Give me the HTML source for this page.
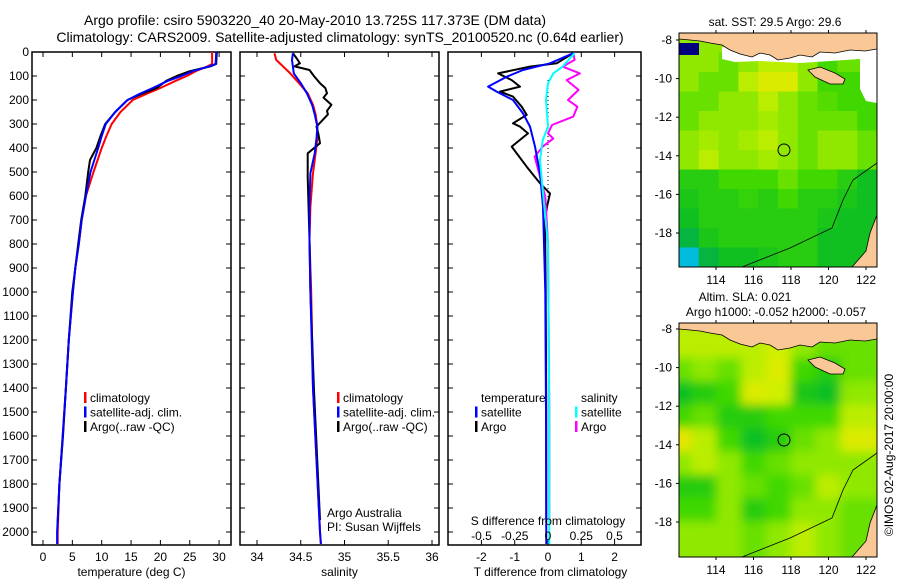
<!DOCTYPE html>
<html><head><meta charset="utf-8"><style>
html,body{margin:0;padding:0;background:#fff;}
svg{display:block;font-family:"Liberation Sans",sans-serif;}
</style></head><body>
<svg id="c" width="900" height="580" viewBox="0 0 900 580">
<defs>
<clipPath id="clipTop"><rect x="679" y="33" width="198" height="234"/></clipPath>
<clipPath id="clipBot"><rect x="679" y="323" width="198" height="234"/></clipPath>
<filter id="blur" x="-10%" y="-10%" width="120%" height="120%"><feGaussianBlur stdDeviation="5"/></filter>
</defs>
<text x="315" y="25" font-size="14" text-anchor="middle">Argo profile: csiro 5903220_40 20-May-2010 13.725S 117.373E (DM data)</text>
<text x="340" y="42" font-size="14" text-anchor="middle">Climatology: CARS2009. Satellite-adjusted climatology: synTS_20100520.nc (0.64d earlier)</text>
<g id="g"></g>
<text transform="translate(893,455) rotate(-90)" font-size="12" text-anchor="middle">©IMOS 02-Aug-2017 20:00:00</text>
</svg>
<script>
// ---- data ----
const depthTicks = [0,100,200,300,400,500,600,700,800,900,1000,1100,1200,1300,1400,1500,1600,1700,1800,1900,2000];
const tempTicks = [0,5,10,15,20,25,30];
const salTicks = [34,34.5,35,35.5,36];
const tdiffTicks = [-2,-1,0,1,2];
const sdiffTicks = [-0.5,-0.25,0,0.25,0.5];
const sdiffTickLabels = ["-0.5","-0.25","0","0.25","0.5"];

const depthT = [0,50,60,80,100,120,150,175,200,250,300,350,400,500,600,700,800,900,1000,1200,1400,1600,1800,2000,2050];
const climT = [28.8,28.8,28.0,26.0,24.5,22.6,20.0,17.6,15.3,13.2,11.7,10.8,10.0,8.6,7.3,6.6,6.1,5.5,5.1,4.4,3.9,3.35,2.8,2.5,2.5];
const satT = [29.5,29.4,28.3,25.5,23.6,21.3,18.7,16.4,14.4,12.3,10.7,10.0,9.4,8.1,7.3,6.6,6.1,5.5,5.1,4.4,3.9,3.35,2.8,2.4,2.4];
const argoDepthT = [0,50,60,80,100,120,150,175,200,250,300,350,400,450,500,600,700,800,900,1000,1200,1400,1600,1800,1960];
const argoT = [29.6,29.5,28.5,25.0,22.8,21.0,19.4,16.8,14.4,12.3,10.6,9.8,9.1,8.0,7.7,7.2,6.5,6.0,5.5,5.0,4.4,3.9,3.4,2.8,2.5];

const depthS = [5,33,89,130,172,220,260,311,360,422,505,644,783,1000,1400,2000,2050];
const climS = [34.2,34.22,34.38,34.48,34.58,34.64,34.67,34.69,34.69,34.67,34.64,34.61,34.6,34.62,34.64,34.72,34.73];
const satS = [34.41,34.40,34.42,34.5,34.57,34.63,34.66,34.69,34.68,34.66,34.61,34.6,34.6,34.61,34.64,34.72,34.73];
const argoDepthS = [5,25,47,60,75,100,130,150,172,190,220,245,260,311,340,380,422,450,520,783,1000,1400,1950];
const argoS = [34.41,34.45,34.49,34.43,34.6,34.65,34.72,34.78,34.8,34.76,34.85,34.8,34.81,34.68,34.70,34.72,34.58,34.58,34.58,34.6,34.61,34.65,34.72];

const depthSatDT = [5,47,75,103,144,165,200,256,311,394,505,644,800,1000,1500,2050];
const satDT = [0.76,0.06,-0.75,-1.24,-1.8,-1.54,-1.05,-0.75,-0.54,-0.39,-0.24,-0.15,-0.12,-0.08,-0.06,-0.05];
const depthArgoDT = [5,47,61,89,117,144,165,186,228,262,297,311,339,394,478,547,589,644,700,1000,1500,1950];
const argoDT = [0.76,0.26,-0.54,-1.5,-1.09,-0.84,-1.44,-1.05,-0.79,-0.64,-1.05,-0.84,-0.6,-1.09,-0.64,-0.24,0.06,-0.03,-0.09,-0.07,-0.05,-0.05];
const depthSatDS = [5,61,89,131,200,311,367,450,575,800,1500,2050];
const satDS = [0.2,0.11,0.04,0,-0.015,0,-0.04,-0.06,-0.04,0,0.01,0.01];
const depthArgoDS = [5,33,61,89,117,158,200,228,269,304,339,361,394,436,520,603,800,1500,1950];
const argoDS = [0.19,0.2,0.11,0.24,0.14,0.23,0.15,0.22,0.19,0.03,0.0,0.04,-0.04,-0.1,-0.06,-0.02,0.0,0.01,0.01];

const lonTicks = [114,116,118,120,122];
const latTicks = [-8,-10,-12,-14,-16,-18];
const sstGrid = [
 [0.7,0.7,0.7,0.7,0.7,0.7,0.6,0.6,0.6,0.6],
 [0.7,0.7,0.6,0.7,0.8,0.8,0.7,0.5,0.6,0.6],
 [0.7,0.6,0.6,0.8,0.9,0.9,0.7,0.5,0.5,0.5],
 [0.6,0.6,0.7,0.7,0.8,0.7,0.6,0.55,0.5,0.5],
 [0.6,0.7,0.7,0.7,0.75,0.7,0.6,0.6,0.6,0.5],
 [0.7,0.75,0.7,0.75,0.8,0.7,0.6,0.7,0.7,0.6],
 [0.7,0.8,0.7,0.7,0.75,0.7,0.6,0.7,0.7,0.6],
 [0.4,0.4,0.5,0.5,0.5,0.6,0.5,0.5,0.4,0.3],
 [0.35,0.4,0.4,0.45,0.4,0.5,0.4,0.4,0.35,0.3],
 [0.3,0.4,0.4,0.4,0.4,0.4,0.4,0.35,0.3,0.3],
 [0.1,0.35,0.4,0.4,0.4,0.4,0.4,0.3,0.3,0.3],
 [-0.4,0.1,0.3,0.3,0.35,0.4,0.4,0.3,0.3,0.3]];
const slaGrid = [
 [0.8,0.8,0.8,0.8,0.8,0.8,0.7,0.7],
 [0.8,0.8,0.8,0.8,0.85,0.7,0.6,0.6],
 [0.6,0.7,0.6,0.8,0.9,0.5,0.4,0.6],
 [0.3,0.4,0.5,0.9,0.85,0.35,0.3,0.7],
 [0.5,0.6,0.4,0.4,0.5,0.5,0.5,0.8],
 [0.95,0.8,0.5,0.3,0.4,0.6,0.7,0.9],
 [0.7,0.8,0.7,0.5,0.6,0.7,0.7,0.7],
 [0.4,0.4,0.7,0.6,0.5,0.6,0.8,0.7],
 [0.5,0.5,0.7,0.4,0.5,0.7,0.7,0.6],
 [0.7,0.7,0.7,0.6,0.7,0.8,0.7,0.6]];

// ---- helpers ----
const NS="http://www.w3.org/2000/svg";
const G=document.getElementById('g');
function mk(tag,attrs,parent){const e=document.createElementNS(NS,tag);for(const k in attrs)e.setAttribute(k,attrs[k]);(parent||G).appendChild(e);return e;}
function txt(x,y,s,size,anchor,parent){const t=mk('text',{x:x,y:y,'font-size':size,'text-anchor':anchor||'start'},parent);t.textContent=s;return t;}

const PT=52, PB=545, DPX=0.24;
const yD=d=>PT+d*DPX;
const panels=[
 {x0:32,x1:231,xf:v=>43+v*5.87,ticks:tempTicks,labels:tempTicks.map(String),name:'temperature-panel',xlabel:'temperature (deg C)',depthLabels:true},
 {x0:240,x1:439,xf:v=>257+(v-34)*87.5,ticks:salTicks,labels:salTicks.map(String),name:'salinity-panel',xlabel:'salinity'},
 {x0:448,x1:641,xf:v=>548+v*33.3,ticks:tdiffTicks,labels:tdiffTicks.map(String),name:'difference-panel',xlabel:'T difference from climatology'}
];
panels.forEach(p=>{
 const g=mk('g',{});
 
 
 mk('rect',{x:p.x0,y:PT,width:p.x1-p.x0,height:PB-PT,fill:'none',stroke:'#000','stroke-width':1.5},g);
 p.ticks.forEach((t,i)=>{const x=p.xf(t);
  mk('line',{x1:x,x2:x,y1:PB,y2:PB-5,stroke:'#000'},g);
  mk('line',{x1:x,x2:x,y1:PT,y2:PT+5,stroke:'#000'},g);
  const l=txt(x,561,p.labels[i],12,'middle',g);
  
  
 });
 depthTicks.forEach(d=>{const y=yD(d);
  mk('line',{x1:p.x0,x2:p.x0+5,y1:y,y2:y,stroke:'#000'},g);
  mk('line',{x1:p.x1,x2:p.x1-5,y1:y,y2:y,stroke:'#000'},g);
  if(p.depthLabels){const l=txt(29,y+4,String(d),12,'end',g);
   
   }
 });
 const xl=txt((p.x0+p.x1)/2+(p.name==='difference-panel'?6:0),576,p.xlabel,12,'middle',g);
 
 
 p.g=g;
});
function line(p,depths,vals,color,name,w){
 const d=depths.map((dd,i)=>(i?'L':'M')+p.xf(vals[i]).toFixed(1)+','+yD(dd).toFixed(1)).join('');
 const e=mk('path',{d:d,fill:'none',stroke:color,'stroke-width':w||2,'stroke-linejoin':'round'},p.g);
 
 
}
const P1=panels[0],P2=panels[1],P3=panels[2];
line(P1,depthT,climT,'#f00','climatology-temperature-line');
line(P1,argoDepthT,argoT,'#000','argo-temperature-line');
line(P1,depthT,satT,'#00f','satellite-temperature-line');
line(P2,depthS,climS,'#f00','climatology-salinity-line');
line(P2,argoDepthS,argoS,'#000','argo-salinity-line');
line(P2,depthS,satS,'#00f','satellite-salinity-line');
mk('line',{x1:548,x2:548,y1:80,y2:200,stroke:'#000','stroke-dasharray':'1,3'},P3.g);
const P3s={xf:v=>548+v*133,g:P3.g};
line(P3,depthArgoDT,argoDT,'#000','argo-temperature-diff-line');
line(P3s,depthArgoDS,argoDS,'#f0f','argo-salinity-diff-line');
line(P3,depthSatDT,satDT,'#00f','satellite-temperature-diff-line');
line(P3s,depthSatDS,satDS,'#0ff','satellite-salinity-diff-line');
sdiffTicks.forEach((t,i)=>{const l=txt(P3s.xf(t),540,sdiffTickLabels[i],12,'middle',P3.g);
 
 });
const sdl=txt(548,525,'S difference from climatology',12,'middle',P3.g);



function legend(x,y,items,parent,name){
 const g=mk('g',{},parent);
 
 
 items.forEach((it,i)=>{const yy=y+i*14.5;
  if(it[1])mk('rect',{x:x,y:yy-10,width:2.5,height:11,fill:it[1]},g);
  txt(x+6,yy,it[0],12,'start',g);});
}
legend(84,402,[['climatology','#f00'],['satellite-adj. clim.','#00f'],['Argo(..raw -QC)','#000']],P1.g,'temperature-legend');
legend(337,402,[['climatology','#f00'],['satellite-adj. clim.','#00f'],['Argo(..raw -QC)','#000']],P2.g,'salinity-legend');
legend(475,402,[['temperature',null],['satellite','#00f'],['Argo','#000']],P3.g,'temperature-diff-legend');
legend(575,402,[['salinity',null],['satellite','#0ff'],['Argo','#f0f']],P3.g,'salinity-diff-legend');
txt(327,517,'Argo Australia',12,'start',P2.g);
txt(327,531,'PI: Susan Wijffels',12,'start',P2.g);

// ---- maps ----
function col(v){
 const st=[[-0.5,[0,190,255]],[0,[0,176,80]],[0.3,[16,192,32]],[0.5,[64,216,0]],[0.7,[144,232,0]],[0.85,[208,240,0]],[1,[240,224,0]]];
 for(let i=1;i<st.length;i++){if(v<=st[i][0]){const a=st[i-1],b=st[i],t=(v-a[0])/(b[0]-a[0]);
  return 'rgb('+a[1].map((c,k)=>Math.round(c+(b[1][k]-c)*Math.max(0,t))).join(',')+')';}}
 return 'rgb(240,224,0)';
}
const MX0=679,MW=198,MH=234;
function drawMap(top,grid,blur,name,title,lat8){
 const g=mk('g',{});
 
 
 const clip=mk('g',{'clip-path':'url(#'+(top===33?'clipTop':'clipBot')+')'},g);
 const cg=mk('g',blur?{filter:'url(#blur)'}:{},clip);
 const rows=grid.length,cols=grid[0].length,cw=MW/cols,ch=MH/rows;
 grid.forEach((r,i)=>r.forEach((v,j)=>{
  const c=mk('rect',{x:MX0+j*cw-(blur?12:0),y:top+i*ch-(blur?12:0),width:cw+(blur?24:0.5),height:ch+(blur?24:0.5),fill:col(v)},cg);
  
  
 }));
 const o=(pts)=>pts.map(p=>p[0]+','+(p[1]+top)).join(' ');
 if(!blur){
  mk('polygon',{points:o([[722,14],[877,14],[877,36],[860,40],[860,26],[800,30],[760,28],[735,29],[722,26]]),fill:'#fff'},clip);
  mk('polygon',{points:o([[860,36],[877,36],[877,70],[866,68],[860,56]]),fill:'#fff'},clip);
  mk('rect',{x:679,y:top+10,width:20,height:12,fill:'#000080'},clip);
  mk('rect',{x:744,y:top,width:11,height:10,fill:'#a00000'},clip);
 }
 mk('polygon',{points:o([[679,0],[877,0],[877,16],[865,18],[850,17],[835,20],[820,19],[812,24],[800,22],[790,25],[778,27],[770,22],[760,20],[752,24],[740,21],[730,17],[722,12],[710,10],[700,8],[690,7],[679,6]]),fill:'#f9c896',stroke:'#000','stroke-width':0.8},clip);
 mk('polygon',{points:o([[808,37],[820,34],[835,40],[845,46],[843,51],[830,51],[815,44]]),fill:'#f9c896',stroke:'#000','stroke-width':0.8},clip);
 mk('polygon',{points:o([[877,182],[870,200],[866,218],[852,234],[877,234]]),fill:'#f9c896',stroke:'#000','stroke-width':0.8},clip);
 mk('polyline',{points:o([[742,234],[790,215],[832,195],[843,167],[853,147],[877,130]]),fill:'none',stroke:'#000','stroke-width':0.8},clip);
 mk('circle',{cx:784,cy:top+117,r:6,fill:'none',stroke:'#000'},g);
 mk('rect',{x:MX0,y:top,width:MW,height:MH,fill:'none',stroke:'#000'},g);
 lonTicks.forEach(l=>{const x=716+(l-114)*18.75;
  mk('line',{x1:x,x2:x,y1:top,y2:top-3,stroke:'#000'},g);
  mk('line',{x1:x,x2:x,y1:top+MH,y2:top+MH+3,stroke:'#000'},g);
  txt(x,top+MH+17,String(l),12,'middle',g);});
 latTicks.forEach(l=>{const y=lat8+(-8-l)*19.3;
  mk('line',{x1:MX0,x2:MX0-3,y1:y,y2:y,stroke:'#000'},g);
  txt(672,y+4,String(l),12,'end',g);});
 title.forEach((t,i)=>txt(t[1],top-(title.length-i-1)*15-7,t[0],12,'middle',g));
}
drawMap(33,sstGrid,false,'sst-map',[['sat. SST: 29.5 Argo: 29.6',775]],40);
drawMap(323,slaGrid,true,'sla-map',[['Altim. SLA: 0.021',745],['Argo h1000: -0.052 h2000: -0.057',776]],329);
</script>
</body></html>
